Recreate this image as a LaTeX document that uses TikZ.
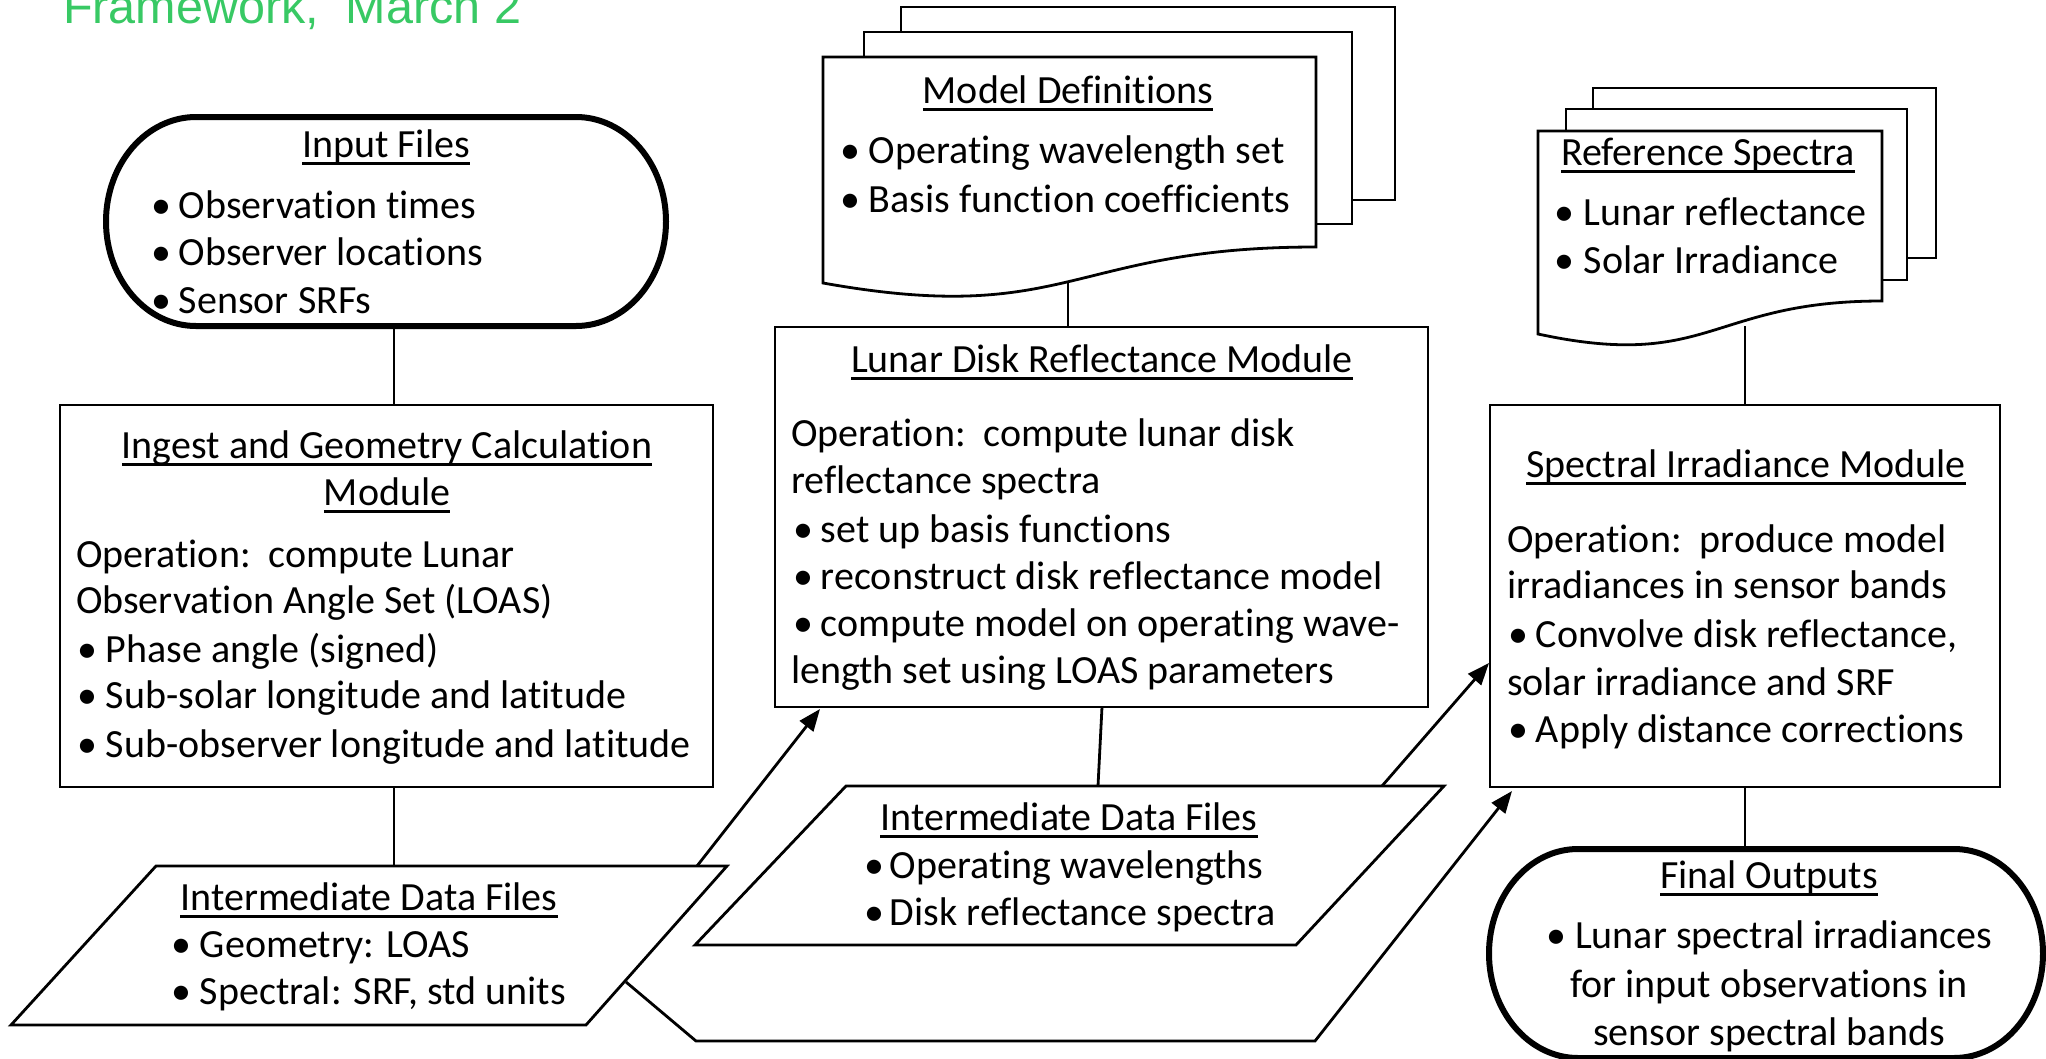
\documentclass[tikz,border=0pt]{standalone}
\usepackage{fontspec}
\setmainfont{Carlito}[Ligatures=NoCommon]
\newfontfamily\hdrfont{Liberation Sans}
\usetikzlibrary{arrows.meta}
\definecolor{hdrgreen}{RGB}{56,201,100}
\newlength\ulwd
% underlined heading with the rule crossing the descenders
\newcommand\ultitle[1]{\settowidth{\ulwd}{#1}\rlap{\rule[-8.2pt]{\ulwd}{2.8pt}}#1}
% bullet set in a box of fixed width
\newcommand\bul[1]{\makebox[#1pt][l]{•}}
\begin{document}
\begin{tikzpicture}[x=1pt,y=-1pt,
  outline/.style={draw=black,line width=2.8pt,line join=miter,fill=white},
  terminal/.style={draw=black,line width=6pt,fill=white},
  link/.style={draw=black,line width=2.8pt},
  flow/.style={draw=black,line width=2.8pt,-{Triangle[length=22pt,width=17pt]}},
  txt/.style={inner sep=0pt,outer sep=0pt,font=\fontsize{40}{48}\selectfont,text=black},
  hdr/.style={inner sep=0pt,outer sep=0pt,font=\hdrfont\fontsize{48.5}{58}\selectfont,text=hdrgreen}]

\useasboundingbox (0,0) rectangle (2046,1058);
\clip (0,0) rectangle (2046,1058);
\fill[white] (0,0) rectangle (2046,1058);

% heading line at the top edge
\node[hdr,anchor=base west] (hdr) at (63,23) {Framework,\ \ March 2};

% ---------- shapes ----------
% Input Files terminator
\path[terminal] (196,117) -- (576,117)
  arc[start angle=-90,end angle=90,x radius=90,y radius=104.5]
  -- (196,326)
  arc[start angle=90,end angle=270,x radius=90,y radius=104.5] -- cycle;

% Ingest and Geometry Calculation Module
\path[outline] (60,405) rectangle (713,787);

% Model Definitions (stacked documents)
\path[outline] (901,7) rectangle (1395,200);
\path[outline] (864,32) rectangle (1352,224);
\path[outline] (823,57) -- (1316,57) -- (1316,247)
  .. controls (1069,247) and (1069,327) .. (823,283) -- cycle;

% Lunar Disk Reflectance Module
\path[outline] (775,327) rectangle (1428,707);

% Reference Spectra (stacked documents)
\path[outline] (1593,88) rectangle (1936,258);
\path[outline] (1566,109) rectangle (1907,280);
\path[outline] (1538,131) -- (1882,131) -- (1882,301)
  .. controls (1710,301) and (1710,371) .. (1538,334) -- cycle;

% Spectral Irradiance Module
\path[outline] (1490,405) rectangle (2000,787);

% Intermediate data (parallelograms)
\path[outline] (156,866) -- (727,866) -- (586,1025) -- (11,1025) -- cycle;
\path[outline] (846,786) -- (1444,786) -- (1296,945) -- (695,945) -- cycle;

% Final Outputs terminator
\path[terminal] (1578,849) -- (1954,849)
  arc[start angle=-90,end angle=90,x radius=89,y radius=104.5]
  -- (1578,1058)
  arc[start angle=90,end angle=270,x radius=89,y radius=104.5] -- cycle;

% ---------- connection points ----------
\coordinate (inBot) at (394,326);
\coordinate (igTop) at (394,405);
\coordinate (igBot) at (394,787);
\coordinate (lpTop) at (394,866);
\coordinate (mdBot) at (1068,283);
\coordinate (ldTop) at (1068,327);
\coordinate (ldBot) at (1102,707);
\coordinate (mpTop) at (1098,786);
\coordinate (rsBot) at (1745,326);
\coordinate (siTop) at (1745,405);
\coordinate (siBot) at (1745,787);
\coordinate (foTop) at (1745,849);
\coordinate (lpOut) at (697,866);
\coordinate (ldIn) at (820,709);
\coordinate (mpOut) at (1382,786);
\coordinate (siInA) at (1489,663);
\coordinate (lpSide) at (626,982);
\coordinate (loopA) at (696,1041);
\coordinate (loopB) at (1315,1041);
\coordinate (siInB) at (1512,791);

% ---------- connectors ----------
\draw[link] (inBot) -- (igTop);
\draw[link] (igBot) -- (lpTop);
\draw[link] (mdBot) -- (ldTop);
\draw[link] (ldBot) -- (mpTop);
\draw[link] (rsBot) -- (siTop);
\draw[link] (siBot) -- (foTop);
\draw[flow] (lpOut) -- (ldIn);
\draw[flow] (mpOut) -- (siInA);
\draw[flow,line join=miter] (lpSide) -- (loopA) -- (loopB) -- (siInB);

% ---------- texts ----------
% Input Files
\node[txt,anchor=base] (inT) at (386,157) {\ultitle{Input Files}};
\node[txt,anchor=base west] (in1) at (151,218) {\bul{28}Observation times};
\node[txt,anchor=base west] (in2) at (151,265) {\bul{28}Observer locations};
\node[txt,anchor=base west] (in3) at (151,313) {\bul{28}Sensor SRFs};

% Ingest and Geometry Calculation Module
\node[txt,anchor=base] (ig0a) at (387,458) {\ultitle{Ingest and Geometry Calculation}};
\node[txt,anchor=base] (ig0b) at (387,505) {\ultitle{Module}};
\node[txt,anchor=base west] (ig1) at (76,567) {Operation:\ \ compute Lunar};
\node[txt,anchor=base west] (ig2) at (76,613) {Observation Angle Set (LOAS)};
\node[txt,anchor=base west] (ig3) at (77,662) {\bul{29}Phase angle (signed)};
\node[txt,anchor=base west] (ig4) at (77,708) {\bul{29}Sub-solar longitude and latitude};
\node[txt,anchor=base west] (ig5) at (77,757) {\bul{29}Sub-observer longitude and latitude};

% Lunar Disk Reflectance Module
\node[txt,anchor=base] (ld0) at (1102,372) {\ultitle{Lunar Disk Reflectance Module}};
\node[txt,anchor=base west] (ld1) at (791,446) {Operation:\ \ compute lunar disk};
\node[txt,anchor=base west] (ld2) at (791,493) {reflectance spectra};
\node[txt,anchor=base west] (ld3) at (793,542) {\bul{28}set up basis functions};
\node[txt,anchor=base west] (ld4) at (793,589) {\bul{28}reconstruct disk reflectance model};
\node[txt,anchor=base west] (ld5) at (793,636) {\bul{28}compute model on operating wave-};
\node[txt,anchor=base west] (ld6) at (791,683) {length set using LOAS parameters};

% Spectral Irradiance Module
\node[txt,anchor=base] (si0) at (1746,477) {\ultitle{Spectral Irradiance Module}};
\node[txt,anchor=base west] (si1) at (1507,552) {Operation:\ \ produce model};
\node[txt,anchor=base west] (si2) at (1507,598) {irradiances in sensor bands};
\node[txt,anchor=base west] (si3) at (1508,647) {\bul{28}Convolve disk reflectance,};
\node[txt,anchor=base west] (si4) at (1507,695) {solar irradiance and SRF};
\node[txt,anchor=base west] (si5) at (1508,742) {\bul{28}Apply distance corrections};

% Model Definitions
\node[txt,anchor=base] (md0) at (1068,103) {\ultitle{Model Definitions}};
\node[txt,anchor=base west] (md1) at (840,163) {\bul{29}Operating wavelength set};
\node[txt,anchor=base west] (md2) at (840,212) {\bul{29}Basis function coefficients};

% Reference Spectra
\node[txt,anchor=base] (rs0) at (1708,165) {\ultitle{Reference Spectra}};
\node[txt,anchor=base west] (rs1) at (1554,225) {\bul{30}Lunar reflectance};
\node[txt,anchor=base west] (rs2) at (1554,273) {\bul{30}Solar Irradiance};

% Intermediate data, geometry and spectral
\node[txt,anchor=base] (lp0) at (369,910) {\ultitle{Intermediate Data Files}};
\node[txt,anchor=base west] (lp1) at (171,957) {\bul{29}Geometry: LOAS};
\node[txt,anchor=base west] (lp2) at (171,1004) {\bul{29}Spectral: SRF, std units};

% Intermediate data, wavelengths and reflectance
\node[txt,anchor=base] (mp0) at (1069,830) {\ultitle{Intermediate Data Files}};
\node[txt,anchor=base west] (mp1) at (864,878) {\bul{26}Operating wavelengths};
\node[txt,anchor=base west] (mp2) at (864,925) {\bul{26}Disk reflectance spectra};

% Final Outputs
\node[txt,anchor=base] (fo0) at (1769,888) {\ultitle{Final Outputs}};
\node[txt,anchor=base] (fo1) at (1769,948) {•\ Lunar spectral irradiances};
\node[txt,anchor=base] (fo2) at (1769,997) {for input observations in};
\node[txt,anchor=base] (fo3) at (1769,1045) {sensor spectral bands};
\end{tikzpicture}
\end{document}
